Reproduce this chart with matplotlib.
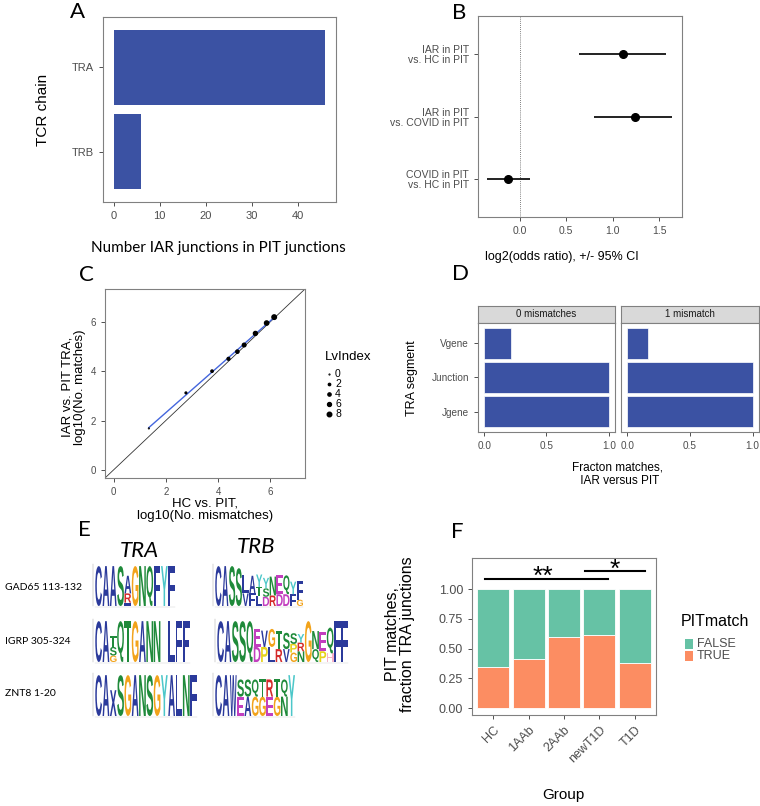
import numpy as np
import matplotlib
matplotlib.use("Agg")
import matplotlib.pyplot as plt
from matplotlib.textpath import TextPath
from matplotlib.patches import PathPatch, Rectangle
from matplotlib.font_manager import FontProperties
from matplotlib.transforms import Affine2D

plt.rcParams['font.family'] = ['Liberation Sans', 'DejaVu Sans']

W, H = 760, 806

# --- panel A: chains ---
chains = ["TRB", "TRA"]
chain_counts = [6, 46]

# --- panel B: odds ratios ---
comparisons = ["COVID in PIT\nvs. HC in PIT", "IAR in PIT\nvs. COVID in PIT", "IAR in PIT\nvs. HC in PIT"]
log2_or = [-0.12, 1.24, 1.11]
ci_low = [-0.35, 0.80, 0.635]
ci_high = [0.11, 1.64, 1.57]

# --- panel C: matches vs mismatches ---
lv_index = [0, 1, 2, 3, 4, 5, 6, 7, 8]
hc_log10 = [1.35, 2.77, 3.77, 4.40, 4.74, 5.00, 5.43, 5.86, 6.15]
iar_log10 = [1.68, 3.12, 4.00, 4.50, 4.79, 5.06, 5.53, 5.95, 6.19]
lv_legend = [0, 2, 4, 6, 8]

# --- panel D: segment fractions ---
segments = ["Jgene", "Junction", "Vgene"]
facets = ["0 mismatches", "1 mismatch"]
frac_0mm = [1.0, 1.0, 0.215]
frac_1mm = [1.0, 1.0, 0.165]

# --- panel E: sequence logos (columns bottom -> top, letter, height) ---
epitopes = ["GAD65 113-132", "IGRP 305-324", "ZNT8 1-20"]
gad65_tra = [[("C", .95)], [("A", .95)], [("A", .95)], [("S", .95)],
             [("I", .08), ("R", .22), ("A", .42)], [("G", .95)], [("N", .95)],
             [("Q", .95)], [("F", .95)], [("Y", .95)], [("F", .95)]]
gad65_trb = [[("C", .95)], [("A", .95)], [("S", .95)], [("S", .9)],
             [("V", .3), ("L", .45)], [("F", .3), ("A", .42)],
             [("L", .25), ("T", .2), ("Y", .3)], [("D", .22), ("S", .2), ("Y", .25)],
             [("R", .25), ("N", .45)], [("D", .28), ("E", .45)], [("D", .28), ("Q", .45)],
             [("F", .28), ("Y", .3)], [("G", .15), ("F", .45)]]
igrp_tra = [[("C", .95)], [("A", .95)], [("G", .15), ("S", .2), ("T", .25)],
            [("Q", .95)], [("T", .95)], [("G", .95)], [("A", .95)], [("N", .95)],
            [("N", .95)], [], [("L", .95)], [("F", .95)], [("F", .95)]]
igrp_trb = [[("C", .95)], [("A", .95)], [("S", .95)], [("S", .95)], [("Q", .95)],
            [("D", .35), ("E", .42)], [("P", .35), ("V", .38)], [("L", .35), ("G", .42)],
            [("R", .3), ("T", .42)], [("V", .3), ("S", .38)],
            [("G", .22), ("P", .2), ("S", .25)], [("N", .25), ("R", .2), ("Y", .2)],
            [("G", .95)], [("Q", .3), ("N", .42)], [("P", .25), ("E", .45)],
            [("H", .2), ("Q", .6)], [("F", .95)], [("F", .95)]]
znt8_tra = [[("C", .95)], [("A", .95)], [("X", .6)], [("S", .95)], [("G", .95)],
            [("A", .95)], [("N", .95)], [("S", .95)], [("G", .95)], [("Y", .95)],
            [("A", .95)], [("L", .95)], [("N", .95)], [("F", .95)]]
znt8_trb = [[("C", .95)], [("A", .95)], [("W", .95)], [("E", .45), ("S", .4)],
            [("A", .45), ("S", .4)], [("G", .45), ("Q", .4)], [("G", .45), ("T", .4)],
            [("E", .45), ("R", .4)], [("G", .45), ("T", .4)], [("N", .45), ("Q", .4)],
            [("Y", .95)]]
aa_colors = {"C": "#2B3A9B", "A": "#2B3A9B", "F": "#2B3A9B", "L": "#2B3A9B", "V": "#2B3A9B",
             "W": "#2B3A9B", "I": "#2B3A9B", "X": "#2B3A9B",
             "S": "#1F8A3A", "T": "#1F8A3A", "Q": "#1F8A3A", "N": "#1F8A3A",
             "G": "#F2A31B", "R": "#D42A2A", "D": "#C23FBF", "E": "#C23FBF",
             "Y": "#4CC7C9", "P": "#E7D21C", "H": "#F6B3C8"}

# --- panel F: PIT matches by group ---
groups = ["HC", "1AAb", "2AAb", "newT1D", "T1D"]
frac_true = [0.35, 0.41, 0.597, 0.615, 0.383]
sig_brackets = [(0.78, 4.24, 1.085, "**"), (3.58, 5.29, 1.148, "*")]

BAR_BLUE = "#3B52A3"
TICK_COL = "#4D4D4D"
FRAME = "#808080"
narrow = ['Liberation Sans Narrow', 'Liberation Sans']
calibri = ['Lato', 'DejaVu Sans']

fig = plt.figure(figsize=(W / 100, H / 100), dpi=100)


def px_axes(x0, y0, x1, y1):
    return fig.add_axes([x0 / W, 1 - y1 / H, (x1 - x0) / W, (y1 - y0) / H])


def ftext(x, y, s, **kw):
    fig.text(x / W, 1 - y / H, s, **kw)


def style(ax, size=6.5):
    for sp in ax.spines.values():
        sp.set_color(FRAME)
        sp.set_linewidth(0.8)
    ax.tick_params(colors="#333333", labelcolor=TICK_COL, labelsize=size, length=3, width=0.6)


# A
ax = px_axes(103, 17, 336, 202)
ax.barh(range(len(chains)), chain_counts, height=0.9, color=BAR_BLUE)
ax.set_yticks(range(len(chains)), chains)
ax.set_xlim(-2.3, 48.3)
ax.set_ylim(-0.6, 1.6)
ax.set_xticks([0, 10, 20, 30, 40])
style(ax, 8)
ftext(43, 110, "TCR chain", rotation=90, ha="center", va="center", fontsize=11)
ftext(218, 248, "Number IAR junctions in PIT junctions", ha="center", va="center", fontsize=11, family=calibri)
ftext(77, 12, "A", ha="center", va="center", fontsize=16, family=calibri)

# B
ax = px_axes(478, 16, 682, 217)
yy = np.arange(len(comparisons))
ax.axvline(0, color="#555555", lw=0.6, ls=(0, (1, 1.5)))
ax.hlines(yy, ci_low, ci_high, color="#222222", lw=1.4)
ax.plot(log2_or, yy, "o", color="black", ms=5.5)
ax.set_yticks(yy, comparisons, linespacing=1.0)
ax.set_xlim(-0.446, 1.744)
ax.set_ylim(-0.6, 2.6)
ax.set_xticks([0, 0.5, 1.0, 1.5], ["0.0", "0.5", "1.0", "1.5"])
style(ax, 7.5)
for lab in ax.get_yticklabels() + ax.get_xticklabels():
    lab.set_family(narrow)
ftext(562, 257, "log2(odds ratio), +/- 95% CI", ha="center", va="center", fontsize=9, family=narrow)
ftext(459, 13, "B", ha="center", va="center", fontsize=16, family=calibri)

# C
ax = px_axes(105, 289, 305, 478)
sizes = [0.3 + 1.3 * v for v in lv_index]
ax.axline((0, 0), slope=1, color="#333333", lw=0.6)
coef = np.polyfit(hc_log10, iar_log10, 1)
xs = np.array([min(hc_log10), max(hc_log10)])
ax.plot(xs, np.polyval(coef, xs), color="#4466DD", lw=1.0)
ax.scatter(hc_log10, iar_log10, s=sizes, color="black", zorder=3)
ax.set_xlim(-0.33, 7.33)
ax.set_ylim(-0.33, 7.33)
ax.set_xticks([0, 2, 4, 6])
ax.set_yticks([0, 2, 4, 6])
style(ax, 7)
ftext(74, 387, "IAR vs. PIT TRA,\nlog10(No. matches)", rotation=90, ha="center", va="center",
      fontsize=9.5, linespacing=1.1)
ftext(205, 510, "HC vs. PIT,\nlog10(No. mismatches)", ha="center", va="center",
      fontsize=9.5, linespacing=1.1)
ftext(86, 275, "C", ha="center", va="center", fontsize=16, family=calibri)
# legend
lax = px_axes(320, 345, 380, 420)
lax.set_xlim(0, 60)
lax.set_ylim(75, 0)
lax.axis("off")
lax.text(5, 12, "LvIndex", fontsize=9.5, va="center", ha="left")
for i, v in enumerate(lv_legend):
    yv = 29 + i * 10
    lax.scatter([9], [yv], s=0.3 + 1.3 * v, color="black")
    lax.text(15, yv, str(v), fontsize=7.5, va="center", ha="left", color="black")

# D
panels = [(478, 615, frac_0mm), (621, 759, frac_1mm)]
for k, (x0, x1, vals) in enumerate(panels):
    sax = px_axes(x0, 306, x1, 323)
    sax.set_facecolor("#D9D9D9")
    sax.set_xticks([])
    sax.set_yticks([])
    for sp in sax.spines.values():
        sp.set_color(FRAME)
        sp.set_linewidth(0.8)
    sax.text(0.5, 0.5, facets[k], ha="center", va="center", fontsize=7, color="#1A1A1A",
             transform=sax.transAxes)
    ax = px_axes(x0, 323, x1, 432)
    ax.barh(range(len(segments)), vals, height=0.9, color=BAR_BLUE, edgecolor="white", lw=0.5)
    ax.set_xlim(-0.05, 1.05)
    ax.set_ylim(-0.6, 2.6)
    ax.set_xticks([0, 0.5, 1.0], ["0.0", "0.5", "1.0"])
    if k == 0:
        ax.set_yticks(range(len(segments)), segments)
    else:
        ax.set_yticks([])
    style(ax, 7.2)
ftext(412, 378, "TRA segment", rotation=90, ha="center", va="center", fontsize=9)
ftext(618, 474, "Fracton matches,\n IAR versus PIT", ha="center", va="center", fontsize=8.5, linespacing=1.2)
ftext(460, 274, "D", ha="center", va="center", fontsize=16, family=calibri)

# E
logo_font = FontProperties(family="Liberation Sans", weight="bold")


def draw_logo(x0, y0, y1, cols, colw=7.3):
    ax = px_axes(x0, y0, x0 + colw * len(cols), y1)
    ax.set_xlim(0, len(cols))
    ax.set_ylim(0, 1)
    ax.axis("off")
    for i, col in enumerate(cols):
        base = 0.0
        for letter, h in col:
            tp = TextPath((0, 0), letter, size=1, prop=logo_font)
            bb = tp.get_extents()
            tr = Affine2D().translate(-bb.x0, -bb.y0).scale(0.92 / bb.width, h / bb.height) \
                .translate(i + 0.04, base)
            ax.add_patch(PathPatch(tr.transform_path(tp), fc=aa_colors[letter], lw=0))
            base += h
    # faint axis
    ax.plot([-0.25, -0.25], [0, 1], color="#999999", lw=0.3, clip_on=False)
    ax.plot([0, len(cols)], [-0.03, -0.03], color="#CCCCCC", lw=0.3, clip_on=False)


draw_logo(95, 564, 606, gad65_tra)
draw_logo(215, 564, 606, gad65_trb, colw=6.8)
draw_logo(95, 619, 662, igrp_tra)
draw_logo(217, 619, 662, igrp_trb)
draw_logo(95, 673, 716, znt8_tra)
draw_logo(215, 673, 716, znt8_trb)
for lab, y in zip(epitopes, [587, 642, 694]):
    ftext(5, y, lab, ha="left", va="center", fontsize=7.5, family=calibri)
ftext(139, 551, "TRA", ha="center", va="center", fontsize=16, style="italic", family=calibri)
ftext(256, 547, "TRB", ha="center", va="center", fontsize=16, style="italic", family=calibri)
ftext(84, 530, "E", ha="center", va="center", fontsize=16, family=calibri)

# F
ax = px_axes(472, 558, 656, 715)
xg = np.arange(1, len(groups) + 1)
ft = np.array(frac_true)
ax.bar(xg, ft, width=0.9, color="#FC8D62", edgecolor="white", lw=0.6, label="TRUE")
ax.bar(xg, 1 - ft, bottom=ft, width=0.9, color="#66C2A5", edgecolor="white", lw=0.6, label="FALSE")
for a, b, yv, star in sig_brackets:
    ax.plot([a, b], [yv, yv], color="black", lw=1.5)
    ax.text((a + b) / 2 + (0.0 if star == "*" else -0.1), yv - 0.045, star, ha="center", va="baseline",
            fontsize=19, color="black")
ax.set_xlim(0.4, 5.6)
ax.set_ylim(-0.056, 1.26)
ax.set_yticks([0, 0.25, 0.5, 0.75, 1.0], ["0.00", "0.25", "0.50", "0.75", "1.00"])
ax.set_xticks(xg, groups, rotation=45, ha="right", rotation_mode="anchor")
style(ax, 9)
ftext(400, 634, "PIT matches,\nfraction TRA junctions", rotation=90, ha="center", va="center",
      fontsize=11.5, linespacing=1.0)
ftext(563, 795, "Group", ha="center", va="center", fontsize=11)
ftext(457, 532, "F", ha="center", va="center", fontsize=16, family=calibri)
# legend
ftext(681, 622, "PITmatch", ha="left", va="center", fontsize=11.5)
for lab, col, y in [("FALSE", "#66C2A5", 644), ("TRUE", "#FC8D62", 656)]:
    fig.add_artist(Rectangle((685 / W, 1 - (y + 5) / H), 8 / W, 10 / H, facecolor=col,
                             edgecolor="none", transform=fig.transFigure))
    ftext(697, y, lab, ha="left", va="center", fontsize=9, color=TICK_COL)

fig.savefig("out.png", dpi=100)
